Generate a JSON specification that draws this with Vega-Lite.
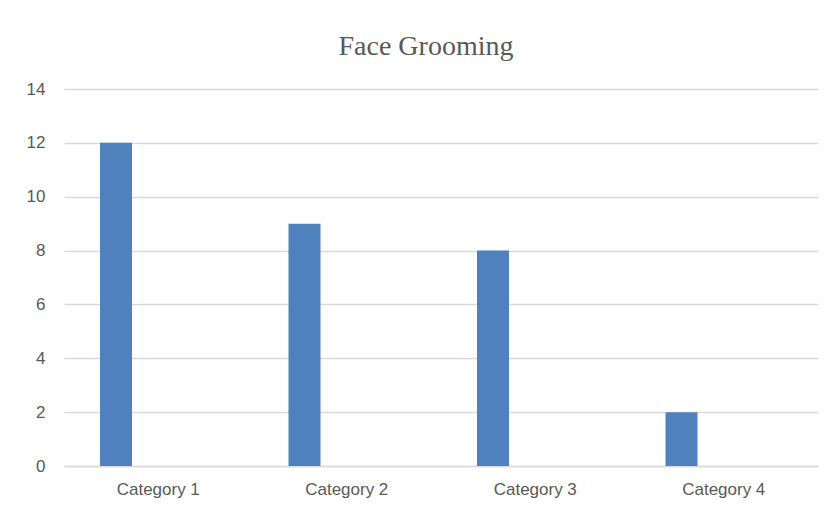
{
  "$schema": "https://vega.github.io/schema/vega-lite/v6.json",
  "width": 754,
  "height": 377,
  "autosize": {"type": "none"},
  "padding": {"left": 64, "top": 89, "right": 11, "bottom": 42},
  "background": "white",
  "title": {
    "text": "Face Grooming",
    "font": "Liberation Serif",
    "fontSize": 28,
    "fontWeight": "normal",
    "color": "#595959",
    "anchor": "middle",
    "baseline": "alphabetic",
    "offset": -3,
    "dx": -15
  },
  "data": {
    "values": [
      {"category": "Category 1", "series": "Series 1", "value": 12},
      {"category": "Category 2", "series": "Series 1", "value": 9},
      {"category": "Category 3", "series": "Series 1", "value": 8},
      {"category": "Category 4", "series": "Series 1", "value": 2}
    ]
  },
  "mark": {"type": "bar", "color": "#4f81bd"},
  "encoding": {
    "x": {
      "field": "category",
      "type": "nominal",
      "sort": null,
      "scale": {"paddingInner": 0, "paddingOuter": 0},
      "axis": {
        "title": null,
        "labelAngle": 0,
        "labelFont": "Liberation Sans",
        "labelFontSize": 17,
        "labelColor": "#595959",
        "labelPadding": 15,
        "ticks": false,
        "domainColor": "#d9d9d9",
        "domainWidth": 1.5,
        "grid": false
      }
    },
    "xOffset": {
      "field": "series",
      "type": "nominal",
      "scale": {"domain": ["Series 1", "Series 2", "Series 3"], "paddingInner": 0.2426, "paddingOuter": 0.852}
    },
    "y": {
      "field": "value",
      "type": "quantitative",
      "scale": {"domain": [0, 14], "nice": false},
      "axis": {
        "title": null,
        "values": [0, 2, 4, 6, 8, 10, 12, 14],
        "labelFont": "Liberation Sans",
        "labelFontSize": 17,
        "labelColor": "#595959",
        "labelPadding": 19,
        "ticks": false,
        "domain": false,
        "grid": true,
        "gridColor": "#d9d9d9",
        "gridWidth": 1.5
      }
    }
  },
  "config": {"view": {"stroke": null}}
}
